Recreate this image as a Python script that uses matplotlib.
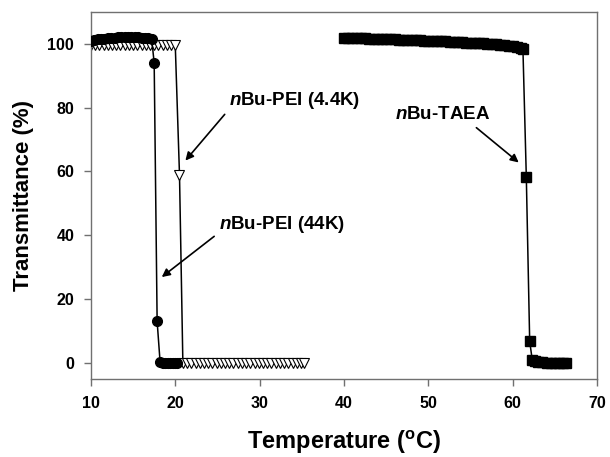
import matplotlib
matplotlib.use("Agg")
import matplotlib.pyplot as plt

plt.rcParams['font.family'] = ['Liberation Sans', 'DejaVu Sans']
plt.rcParams['font.weight'] = 'bold'
plt.rcParams['mathtext.fontset'] = 'custom'
plt.rcParams['mathtext.rm'] = 'Liberation Sans'
plt.rcParams['mathtext.bf'] = 'Liberation Sans:bold'
plt.rcParams['mathtext.it'] = 'Liberation Sans:italic:bold'
plt.rcParams['mathtext.bfit'] = 'Liberation Sans:italic:bold'

# nBu-PEI (44K), filled circles
t_44k = [10.0, 10.4, 10.8, 11.2, 11.6, 12.0, 12.4, 12.8, 13.2, 13.6, 14.0, 14.4,
         14.8, 15.2, 15.6, 16.0, 16.4, 16.8, 17.2, 17.5, 17.85, 18.2, 18.5, 18.8,
         19.1, 19.4, 19.7, 20.0, 20.2]
tr_44k = [101.0, 101.2, 101.4, 101.5, 101.6, 101.7, 101.8, 101.9, 102.0, 102.0, 102.0, 102.0,
          102.0, 102.0, 102.0, 101.9, 101.9, 101.8, 101.6, 94.0, 13.0, 0.3, 0.0, 0.0,
          0.0, 0.0, 0.0, 0.0, 0.0]

# nBu-PEI (4.4K), open down triangles
t_4k = [10.0, 10.5, 11.0, 11.5, 12.0, 12.5, 13.0, 13.5, 14.0, 14.5, 15.0, 15.5,
        16.0, 16.5, 17.0, 17.5, 18.0, 18.5, 19.0, 19.5, 20.0, 20.5, 20.9, 21.4,
        21.9, 22.4, 22.9, 23.4, 23.9, 24.4, 24.9, 25.4, 25.9, 26.4, 26.9, 27.4,
        27.9, 28.4, 28.9, 29.4, 29.9, 30.4, 30.9, 31.4, 31.9, 32.4, 32.9, 33.4,
        33.9, 34.4, 34.9, 35.3]
tr_4k = [99.5, 99.5, 99.5, 99.5, 99.5, 99.5, 99.5, 99.5, 99.5, 99.5, 99.5, 99.5,
         99.5, 99.5, 99.5, 99.5, 99.5, 99.5, 99.5, 99.5, 99.5, 59.0, 0.0, 0.0,
         0.0, 0.0, 0.0, 0.0, 0.0, 0.0, 0.0, 0.0, 0.0, 0.0, 0.0, 0.0,
         0.0, 0.0, 0.0, 0.0, 0.0, 0.0, 0.0, 0.0, 0.0, 0.0, 0.0, 0.0,
         0.0, 0.0, 0.0, 0.0]

# nBu-TAEA, filled squares
t_taea = [40.0, 40.5, 41.0, 41.5, 42.0, 42.5, 43.0, 43.5, 44.0, 44.5, 45.0, 45.5,
          46.0, 46.5, 47.0, 47.5, 48.0, 48.5, 49.0, 49.5, 50.0, 50.5, 51.0, 51.5,
          52.0, 52.5, 53.0, 53.5, 54.0, 54.5, 55.0, 55.5, 56.0, 56.5, 57.0, 57.5,
          58.0, 58.5, 59.0, 59.5, 60.0, 60.5, 61.0, 61.2, 61.6, 62.0, 62.3, 62.6,
          63.0, 63.5, 64.0, 64.5, 65.0, 65.5, 66.0, 66.3]
tr_taea = [101.8, 101.8, 101.8, 101.7, 101.7, 101.7, 101.6, 101.6, 101.6, 101.5, 101.5, 101.4,
           101.4, 101.3, 101.3, 101.2, 101.2, 101.1, 101.1, 101.0, 101.0, 100.9, 100.9, 100.8,
           100.8, 100.7, 100.6, 100.6, 100.5, 100.4, 100.3, 100.3, 100.2, 100.1, 100.0, 99.9,
           99.8, 99.7, 99.5, 99.4, 99.2, 99.0, 98.6, 98.3, 58.4, 6.8, 1.0, 0.5,
           0.3, 0.2, 0.1, 0.1, 0.0, 0.0, 0.0, 0.0]

fig = plt.figure(figsize=(6.1, 4.57), dpi=100)
ax = fig.add_axes([0.149, 0.171, 0.830, 0.803])

ax.plot(t_44k, tr_44k, color='black', lw=1.1, marker='o', ms=7,
        mfc='black', mec='black', zorder=3)
ax.plot(t_4k, tr_4k, color='black', lw=1.1, marker='v', ms=7.5,
        mfc='white', mec='black', mew=0.8, zorder=2)
ax.plot(t_taea, tr_taea, color='black', lw=1.1, marker='s', ms=6.5,
        mfc='black', mec='black', zorder=3)

arrow = dict(arrowstyle='-|>', color='black', lw=1.2, mutation_scale=12,
             shrinkA=2, shrinkB=0)
ax.annotate('$\\mathit{n}$Bu-PEI (4.4K)', xy=(21.2, 63.4), xytext=(26.4, 82.2),
            fontsize=13.5, fontweight='bold', va='center', ha='left',
            arrowprops=dict(arrow, relpos=(0.0, 0.1)))
ax.annotate('$\\mathit{n}$Bu-PEI (44K)', xy=(18.4, 26.9), xytext=(25.2, 43.5),
            fontsize=13.5, fontweight='bold', va='center', ha='left',
            arrowprops=dict(arrow, relpos=(0.0, 0.1)))
ax.annotate('$\\mathit{n}$Bu-TAEA', xy=(60.7, 62.8), xytext=(46.0, 77.8),
            fontsize=13.5, fontweight='bold', va='center', ha='left',
            arrowprops=dict(arrow, relpos=(0.8, 0.0)))

ax.set_xlim(10, 70)
ax.set_ylim(-5, 110)
ax.set_xticks([10, 20, 30, 40, 50, 60, 70])
ax.set_yticks([0, 20, 40, 60, 80, 100])
ax.set_xlabel('Temperature ($\\mathbf{^{o}}$C)', fontsize=17, fontweight='bold', labelpad=13)
ax.set_ylabel('Transmittance (%)', fontsize=16, fontweight='bold', labelpad=10)

for s in ax.spines.values():
    s.set_color('#707070')
    s.set_linewidth(1.0)
ax.tick_params(direction='out', length=5, width=1.0, color='#707070',
               labelsize=11.5, pad=7)
for lab in ax.get_xticklabels() + ax.get_yticklabels():
    lab.set_fontweight('bold')

fig.savefig('out.png', dpi=100)
